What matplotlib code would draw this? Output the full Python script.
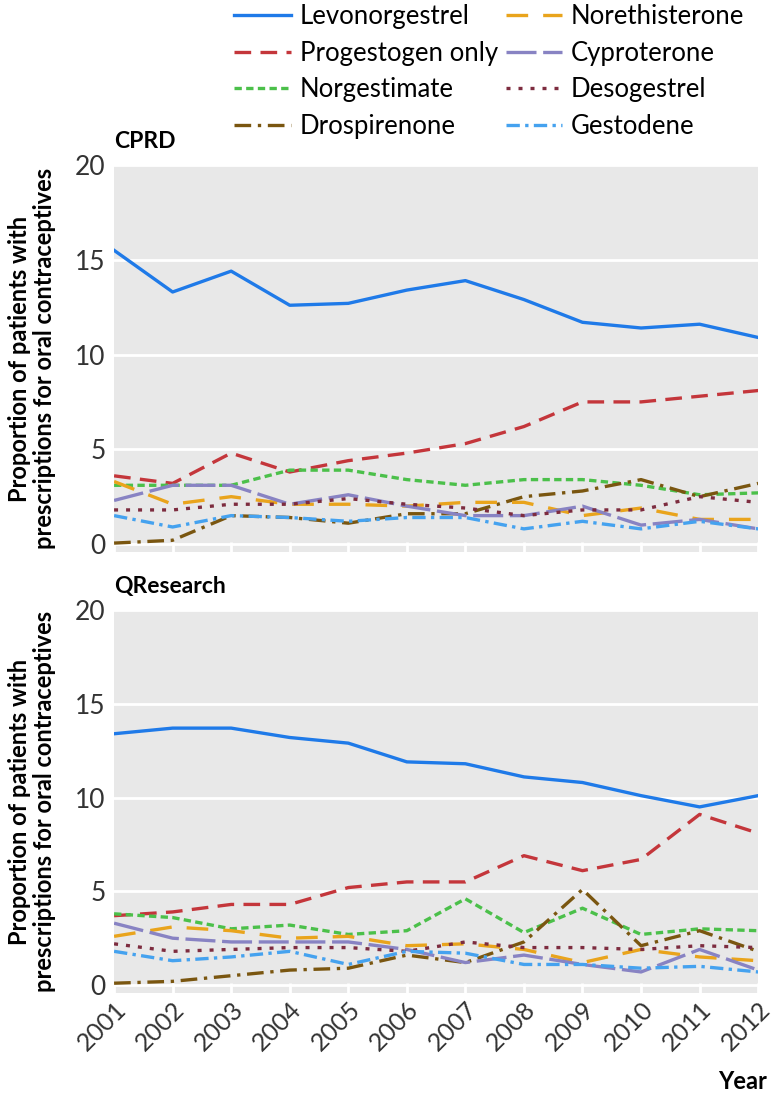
import matplotlib
matplotlib.use("Agg")
import matplotlib.pyplot as plt

plt.rcParams["font.family"] = ["Lato", "DejaVu Sans"]

years = list(range(2001, 2013))
names = ['Levonorgestrel', 'Progestogen only', 'Norgestimate', 'Drospirenone',
         'Norethisterone', 'Cyproterone', 'Desogestrel', 'Gestodene']

cprd = {
    'Levonorgestrel':   [15.5, 13.3, 14.4, 12.6, 12.7, 13.4, 13.9, 12.9, 11.7, 11.4, 11.6, 10.9],
    'Progestogen only': [3.6, 3.2, 4.8, 3.8, 4.4, 4.8, 5.3, 6.2, 7.5, 7.5, 7.8, 8.1],
    'Norgestimate':     [3.1, 3.1, 3.1, 3.9, 3.9, 3.4, 3.1, 3.4, 3.4, 3.1, 2.6, 2.7],
    'Drospirenone':     [0.05, 0.2, 1.5, 1.4, 1.1, 1.6, 1.6, 2.5, 2.8, 3.4, 2.5, 3.2],
    'Norethisterone':   [3.3, 2.1, 2.5, 2.1, 2.1, 2.0, 2.2, 2.2, 1.5, 1.9, 1.3, 1.3],
    'Cyproterone':      [2.3, 3.1, 3.1, 2.1, 2.6, 2.0, 1.5, 1.5, 2.0, 1.0, 1.3, 0.8],
    'Desogestrel':      [1.8, 1.8, 2.1, 2.1, 2.4, 2.1, 1.9, 1.5, 1.8, 1.8, 2.5, 2.2],
    'Gestodene':        [1.5, 0.9, 1.5, 1.4, 1.2, 1.4, 1.4, 0.8, 1.2, 0.8, 1.2, 0.8],
}

qresearch = {
    'Levonorgestrel':   [13.4, 13.7, 13.7, 13.2, 12.9, 11.9, 11.8, 11.1, 10.8, 10.1, 9.5, 10.1],
    'Progestogen only': [3.7, 3.9, 4.3, 4.3, 5.2, 5.5, 5.5, 6.9, 6.1, 6.7, 9.1, 8.1],
    'Norgestimate':     [3.8, 3.6, 3.0, 3.2, 2.7, 2.9, 4.6, 2.8, 4.1, 2.7, 3.0, 2.9],
    'Drospirenone':     [0.1, 0.2, 0.5, 0.8, 0.9, 1.6, 1.2, 2.3, 5.1, 2.1, 2.9, 1.8],
    'Norethisterone':   [2.6, 3.1, 2.9, 2.5, 2.6, 2.1, 2.2, 1.9, 1.2, 1.9, 1.5, 1.3],
    'Cyproterone':      [3.3, 2.5, 2.3, 2.3, 2.3, 1.9, 1.2, 1.6, 1.1, 0.7, 1.9, 0.8],
    'Desogestrel':      [2.2, 1.8, 1.9, 2.0, 2.0, 1.8, 2.3, 2.0, 2.0, 1.9, 2.1, 2.0],
    'Gestodene':        [1.8, 1.3, 1.5, 1.8, 1.1, 1.8, 1.7, 1.1, 1.1, 0.9, 1.0, 0.7],
}

styles = {
    'Levonorgestrel':   ('#1f7ae8', '-'),
    'Progestogen only': ('#c4363b', (0, (5, 2.8))),
    'Norgestimate':     ('#4bc04a', (0, (2.2, 1.3))),
    'Drospirenone':     ('#7a5610', (0, (5, 2, 1, 2))),
    'Norethisterone':   ('#e9a41c', (0, (6.5, 4.5))),
    'Cyproterone':      ('#8883c3', (0, (9, 2))),
    'Desogestrel':      ('#7d2c3f', (0, (1.2, 2.4))),
    'Gestodene':        ('#45a2ef', (0, (4, 1.6, 1, 1.6))),
}

fig = plt.figure(figsize=(7.76, 11.06), dpi=100)
ax1 = fig.add_axes([0.147, 0.5009, 0.830, 0.3499])
ax2 = fig.add_axes([0.147, 0.1022, 0.830, 0.3463])

for ax, data, title in [(ax1, cprd, 'CPRD'), (ax2, qresearch, 'QResearch')]:
    ax.set_facecolor('#e8e8e8')
    for n in names:
        c, ls = styles[n]
        ax.plot(years, data[n], color=c, linestyle=ls, lw=2.4, label=n)
    ax.set_xlim(2001, 2012)
    ax.set_ylim(-0.42, 20)
    ax.set_yticks([0, 5, 10, 15, 20])
    ax.set_xticks(years)
    ax.yaxis.grid(True, color='white', lw=2)
    ax.set_axisbelow(True)
    for s in ax.spines.values():
        s.set_visible(False)
    ax.tick_params(axis='y', length=0, labelsize=19, labelcolor='#333333', pad=6)
    ax.tick_params(axis='x', direction='in', color='white', width=2, length=7,
                   labelsize=18, labelcolor='#333333')
    ax.set_ylabel('Proportion of patients with\nprescriptions for oral contraceptives',
                  fontsize=17, fontweight='bold', labelpad=14, linespacing=1.1)
    ax.set_title(title, loc='left', fontsize=16.5, fontweight='bold', pad=12)

ax1.set_xticklabels([])
for lab in ax2.get_xticklabels():
    lab.set_rotation(45)
    lab.set_ha('right')
    lab.set_rotation_mode('anchor')

fig.text(0.988, 0.012, 'Year', fontsize=17, fontweight='bold', ha='right', va='bottom')

handles, labels = ax1.get_legend_handles_labels()
fig.legend(handles, labels, ncol=2, loc='upper left', bbox_to_anchor=(0.272, 1.017),
           frameon=False, fontsize=18.5, handlelength=2.2, columnspacing=0.3,
           labelspacing=0.45, handletextpad=0.35)

fig.savefig('out.png', dpi=100)
